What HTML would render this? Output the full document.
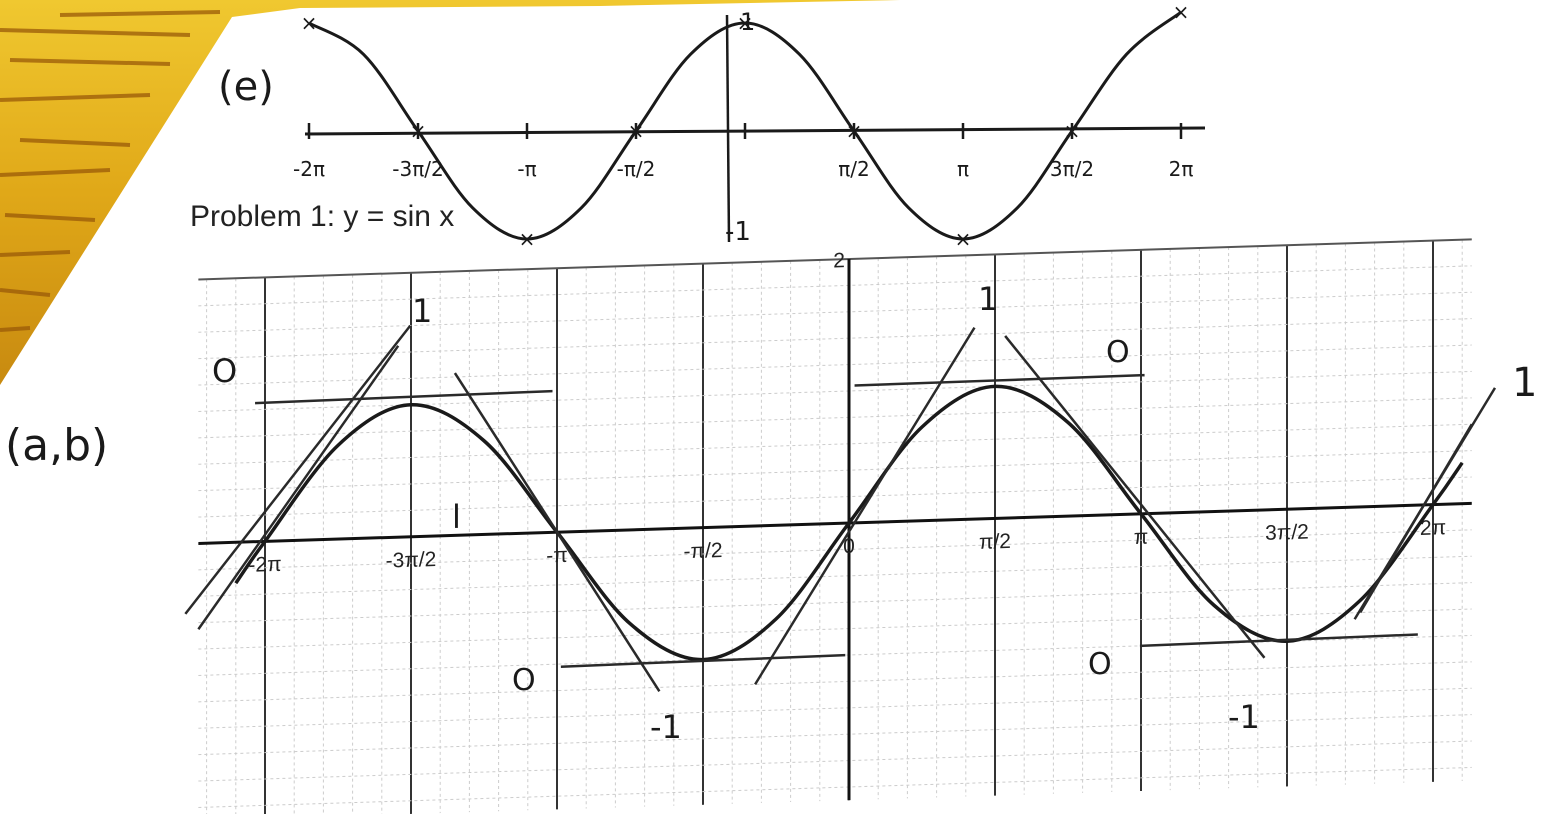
<!DOCTYPE html>
<html><head><meta charset="utf-8"><style>
html,body{margin:0;padding:0;background:#fff;width:1566px;height:814px;overflow:hidden}
svg{display:block}
.hw{font-family:"DejaVu Sans","Liberation Sans",sans-serif;fill:#1a1a1a}
.pr{font-family:"Liberation Sans",sans-serif;fill:#222}
</style></head><body>
<svg id="s" width="1566" height="814" viewBox="0 0 1566 814">
<defs>
<linearGradient id="wood" x1="0" y1="0" x2="0" y2="1">
<stop offset="0" stop-color="#f0c830"/><stop offset="0.5" stop-color="#e0a818"/><stop offset="1" stop-color="#c88a10"/>
</linearGradient>
</defs>
<g>
<polygon points="0,0 900,0 600,6 300,8 232,17 0,385" fill="url(#wood)"/>
<g stroke="#9a5a08" stroke-width="4" opacity="0.75">
<line x1="0" y1="30" x2="190" y2="35"/><line x1="10" y1="60" x2="170" y2="64"/><line x1="0" y1="100" x2="150" y2="95"/>
<line x1="20" y1="140" x2="130" y2="145"/><line x1="0" y1="175" x2="110" y2="170"/><line x1="5" y1="215" x2="95" y2="220"/>
<line x1="0" y1="255" x2="70" y2="252"/><line x1="0" y1="290" x2="50" y2="295"/><line x1="0" y1="330" x2="30" y2="328"/>
<line x1="60" y1="15" x2="220" y2="12"/>
</g>
</g>
<text class="pr" x="190" y="226" font-size="30">Problem 1: y = sin x</text>
<g id="top"></g>
<g id="bot" transform="translate(849 523) skewY(-1.8) translate(-849 -523)"></g>
<g>
<text class="hw" x="218" y="100" font-size="40">(e)</text>
<text class="hw" x="5" y="460" font-size="44">(a,b)</text>
<text class="hw" x="212" y="382" font-size="32">O</text>
<text class="hw" x="412" y="322" font-size="32">1</text>
<text class="hw" x="452" y="528" font-size="32">l</text>
<text class="hw" x="512" y="690" font-size="30">O</text>
<text class="hw" x="650" y="738" font-size="32">-1</text>
<text class="hw" x="978" y="310" font-size="32">1</text>
<text class="hw" x="1106" y="362" font-size="30">O</text>
<text class="hw" x="1088" y="674" font-size="30">O</text>
<text class="hw" x="1228" y="728" font-size="32">-1</text>
<text class="hw" x="1512" y="396" font-size="40">1</text>
</g>
</svg>
<script>
const NS="http://www.w3.org/2000/svg";
function mk(p,t,a){const e=document.createElementNS(NS,t);for(const k in a)e.setAttribute(k,a[k]);p.appendChild(e);return e;}
// ---- top sketch data (y = cos x, hand drawn)
const topX=[-2,-1.75,-1.5,-1.25,-1,-0.75,-0.5,-0.25,0,0.25,0.5,0.75,1,1.25,1.5,1.75,2]; // multiples of pi
const topY=[1,0.71,0,-0.71,-1,-0.71,0,0.71,1,0.71,0,-0.71,-1,-0.71,0,0.71,1.1];
const topTickVals=[-2,-1.5,-1,-0.5,0,0.5,1,1.5,2];
const topTickLabels=["-2π","-3π/2","-π","-π/2","","π/2","π","3π/2","2π"];
const topMarkVals=[-2,-1.5,-1,-0.5,0,0.5,1,1.5,2];
const topMarkY=[1,0,-1,0,1,0,-1,0,1.1];
// ---- bottom chart data (y = sin x)
const sinX=[-2.1,-2,-1.75,-1.5,-1.25,-1,-0.75,-0.5,-0.25,0,0.25,0.5,0.75,1,1.25,1.5,1.75,2,2.1]; // multiples of pi
const sinY=[-0.31,0,0.71,1,0.71,0,-0.71,-1,-0.71,0,0.71,1,0.71,0,-0.71,-1,-0.71,0,0.31];
const botTickVals=[-2,-1.5,-1,-0.5,0,0.5,1,1.5,2];
const botTickLabels=["-2π","-3π/2","-π","-π/2","0","π/2","π","3π/2","2π"];
const tanX1=[-7.14,-7.0,-6.39,-4.24,-3.1,-1.01,0.06,1.68,3.13,5.44,5.5];
const tanY1=[-0.53,-0.65,1.05,1.23,-1.02,-1.2,1.04,1.38,-1.0,-0.85,-0.8];
const tanX2=[-4.72,-4.85,-3.19,-2.04,-0.04,1.35,3.18,4.47,6.12,6.95,6.7];
const tanY2=[1.6,1.45,1.07,-1.23,-1.0,1.45,1.05,-1.12,-0.98,0.87,0.6];

function smooth(pts){let d="M"+pts[0][0]+","+pts[0][1];
 for(let i=0;i<pts.length-1;i++){const p0=pts[Math.max(0,i-1)],p1=pts[i],p2=pts[i+1],p3=pts[Math.min(pts.length-1,i+2)];
  d+=" C"+(p1[0]+(p2[0]-p0[0])/6)+","+(p1[1]+(p2[1]-p0[1])/6)+" "+(p2[0]-(p3[0]-p1[0])/6)+","+(p2[1]-(p3[1]-p1[1])/6)+" "+p2[0]+","+p2[1];}
 return d;}

// top
const T=document.getElementById("top");
const tx=v=>745+v*218, ty=v=>131-v*108;
let l=mk(T,"line",{x1:305,y1:ty(0)+3,x2:1205,y2:ty(0)-3,stroke:"#1a1a1a","stroke-width":3});

l=mk(T,"line",{x1:tx(0)-18,y1:15,x2:tx(0)-16,y2:242,stroke:"#1a1a1a","stroke-width":2.5});

const tp=topX.map((v,i)=>[tx(v),ty(topY[i])]);
l=mk(T,"path",{d:smooth(tp),fill:"none",stroke:"#1a1a1a","stroke-width":3});

topTickVals.forEach((v,i)=>{const x=tx(v);
 const k=mk(T,"line",{x1:x,y1:ty(0)-8,x2:x,y2:ty(0)+8,stroke:"#1a1a1a","stroke-width":2.5});
 
 if(topTickLabels[i]){const t=mk(T,"text",{x:x,y:ty(0)+45,"text-anchor":"middle","font-size":20,class:"hw"});t.textContent=topTickLabels[i];
 }});
topMarkVals.forEach((v,i)=>{const m=mk(T,"text",{x:tx(v),y:ty(topMarkY[i])+7,"text-anchor":"middle","font-size":20,class:"hw"});m.textContent="×";
 });
let t1=mk(T,"text",{x:740,y:30,"font-size":24,class:"hw"});t1.textContent="1";

t1=mk(T,"text",{x:725,y:240,"font-size":26,class:"hw"});t1.textContent="-1";


// bottom
const B=document.getElementById("bot");
const PX=146/(Math.PI/2), PY=132;
const bx=r=>849+r*PX, by=v=>523-v*PY;
const xmin=-7.0,xmax=6.7,ymin=-2.1,ymax=2.0;
for(let k=-40;k<=40;k++){const r=k*Math.PI/10;if(r<xmin||r>xmax)continue;
 const major=k%5===0;
 const g=mk(B,"line",{x1:bx(r),y1:by(ymax),x2:bx(r),y2:by(ymin),stroke:major?"#333":"#ccc","stroke-width":major?2:1,"stroke-dasharray":major?"":"3 3"});
 }
for(let k=-10;k<=10;k++){const v=k*0.2;if(v<ymin||v>ymax)continue;
 const g=mk(B,"line",{x1:bx(xmin),y1:by(v),x2:bx(xmax),y2:by(v),stroke:"#ccc","stroke-width":1,"stroke-dasharray":"3 3"});
 }
l=mk(B,"line",{x1:bx(xmin),y1:by(ymax),x2:bx(xmax),y2:by(ymax),stroke:"#555","stroke-width":2});

l=mk(B,"line",{x1:bx(xmin),y1:by(0),x2:bx(xmax),y2:by(0),stroke:"#111","stroke-width":3});

l=mk(B,"line",{x1:bx(0),y1:by(ymax),x2:bx(0),y2:by(ymin),stroke:"#111","stroke-width":3});

botTickVals.forEach((v,i)=>{const t=mk(B,"text",{x:bx(v*Math.PI),y:by(0)+30,"text-anchor":"middle","font-size":21,class:"pr"});t.textContent=botTickLabels[i];
 });
l=mk(B,"text",{x:bx(0)-4,y:by(2)+8,"text-anchor":"end","font-size":21,class:"pr"});l.textContent="2";

const sp=sinX.map((v,i)=>[bx(v*Math.PI),by(sinY[i])]);
l=mk(B,"path",{d:smooth(sp),fill:"none",stroke:"#1a1a1a","stroke-width":3.5});

tanX1.forEach((v,i)=>{const e=mk(B,"line",{x1:bx(v),y1:by(tanY1[i]),x2:bx(tanX2[i]),y2:by(tanY2[i]),stroke:"#2a2a2a","stroke-width":2.5});
 });
</script>
</body></html>
